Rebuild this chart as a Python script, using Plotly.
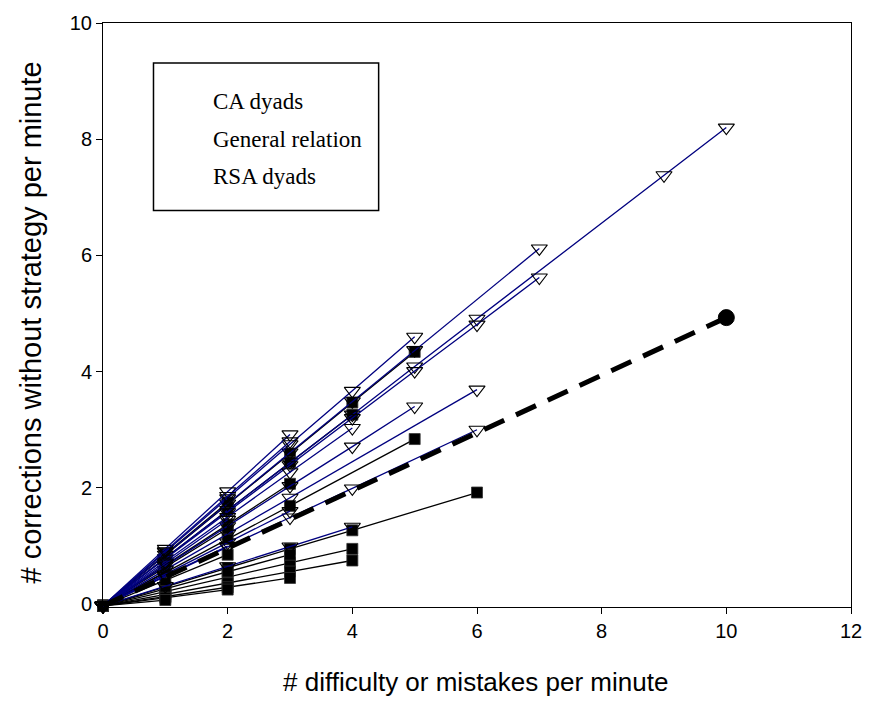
import plotly.graph_objects as go

# Per-dyad regression points: CA dyads (filled squares, black lines)
ca_x = [
    [0, 1, 2, 3, 4, 5],
    [0, 1, 2, 3, 4],
    [0, 1, 2, 3, 5],
    [0, 1, 2, 3, 4, 6],
    [0, 1, 2, 3, 4],
    [0, 1, 2, 3, 4],
    [0, 1, 2, 3],
    [0, 1, 2, 3],
    [0, 1, 2, 3],
    [0, 1, 2],
    [0, 1, 2],
    [0, 1, 2],
    [0, 1, 2],
    [0, 1],
    [0, 1],
]
ca_y = [
    [-0.03, 0.84, 1.72, 2.59, 3.47, 4.34],
    [-0.03, 0.79, 1.62, 2.44, 3.26],
    [-0.03, 0.54, 1.12, 1.69, 2.84],
    [-0.03, 0.30, 0.62, 0.95, 1.27, 1.92],
    [-0.03, 0.22, 0.46, 0.71, 0.95],
    [-0.03, 0.17, 0.36, 0.56, 0.75],
    [-0.03, 0.67, 1.37, 2.07],
    [-0.03, 0.13, 0.29, 0.45],
    [-0.03, 0.26, 0.56, 0.85],
    [-0.03, 0.86, 1.75],
    [-0.03, 0.64, 1.30],
    [-0.03, 0.41, 0.85],
    [-0.03, 0.11, 0.25],
    [-0.03, 0.55],
    [-0.03, 0.07],
]

# RSA dyads (open down-triangles, navy lines)
rsa_x = [
    [0, 1, 2, 3, 4, 5, 6, 9, 10],
    [0, 1, 2, 3, 4, 5, 7],
    [0, 1, 2, 3, 4, 5],
    [0, 1, 2, 3, 4, 5, 6, 7],
    [0, 1, 2, 3, 6],
    [0, 1, 2, 3, 4, 5],
    [0, 1, 2, 3, 4, 6],
    [0, 1, 2, 3, 4],
    [0, 1, 2, 3, 4],
    [0, 1, 2, 3],
    [0, 1, 2, 3],
    [0, 1, 2, 3],
    [0, 1, 2],
    [0, 1, 2],
]
rsa_y = [
    [-0.03, 0.79, 1.62, 2.44, 3.26, 4.09, 4.91, 7.38, 8.20],
    [-0.03, 0.85, 1.73, 2.61, 3.49, 4.37, 6.12],
    [-0.03, 0.90, 1.82, 2.75, 3.67, 4.60],
    [-0.03, 0.78, 1.58, 2.39, 3.20, 4.01, 4.81, 5.62],
    [-0.03, 0.59, 1.21, 1.83, 3.69],
    [-0.03, 0.66, 1.34, 2.03, 2.71, 3.40],
    [-0.03, 0.48, 0.98, 1.49, 1.99, 3.00],
    [-0.03, 0.73, 1.50, 2.27, 3.03],
    [-0.03, 0.31, 0.65, 0.99, 1.33],
    [-0.03, 0.95, 1.94, 2.92],
    [-0.03, 0.91, 1.86, 2.80],
    [-0.03, 0.51, 1.06, 1.60],
    [-0.03, 0.49, 1.00],
    [-0.03, 0.70, 1.45],
]

# Pooled relation across all dyads
general_x = [0, 10]
general_y = [-0.03, 4.93]

x_ticks = [0, 2, 4, 6, 8, 10, 12]
y_ticks = [0, 2, 4, 6, 8, 10]
legend_labels = ["CA dyads", "General relation", "RSA dyads"]

fig = go.Figure()

for xs, ys in zip(ca_x, ca_y):
    fig.add_trace(go.Scatter(
        x=xs, y=ys, mode="lines+markers",
        line=dict(color="black", width=1.3),
        marker=dict(symbol="square", size=11, color="black",
                    line=dict(color="#333333", width=0.8)),
        cliponaxis=False, showlegend=False, hoverinfo="skip"))

for xs, ys in zip(rsa_x, rsa_y):
    fig.add_trace(go.Scatter(
        x=xs, y=ys, mode="lines+markers",
        line=dict(color="#00007f", width=1.3),
        marker=dict(symbol="triangle-down-open", size=14,
                    color="black", line=dict(color="black", width=1.1)),
        cliponaxis=False, showlegend=False, hoverinfo="skip"))

# General relation: thick dashed line with a filled dot at its far end
fig.add_trace(go.Scatter(
    x=general_x, y=general_y, mode="lines",
    line=dict(color="black", width=5, dash="22px,13px"),
    cliponaxis=False, showlegend=False, hoverinfo="skip"))
fig.add_trace(go.Scatter(
    x=general_x[-1:], y=general_y[-1:], mode="markers",
    marker=dict(symbol="circle", size=16, color="#000000",
                line=dict(color="#000000", width=1)),
    cliponaxis=False, showlegend=False, hoverinfo="skip"))

axis_common = dict(
    showgrid=False, zeroline=False, showline=True, linecolor="black",
    linewidth=1, mirror=True, ticks="outside", ticklen=6, tickwidth=1,
    tickcolor="black",
    tickfont=dict(family="Liberation Sans, Arial", size=20, color="black"),
)

fig.update_xaxes(range=[0, 12], tickvals=x_ticks, **axis_common)
fig.update_yaxes(range=[-0.05, 10], tickvals=y_ticks, **axis_common)

# Legend box with text entries
fig.add_shape(type="rect", xref="paper", yref="paper",
              x0=0.0675, x1=0.3685, y0=0.679, y1=0.9315,
              line=dict(color="black", width=1.5), fillcolor="white",
              layer="above")
for label, ypos in zip(legend_labels, [0.865, 0.801, 0.738]):
    fig.add_annotation(x=0.1438, y=ypos, xref="paper", yref="paper",
                       text=label, showarrow=False, xanchor="left",
                       yanchor="middle",
                       font=dict(family="Liberation Serif, Times New Roman",
                                 size=23, color="black"))

fig.add_annotation(x=-0.0963, y=0.487, xref="paper", yref="paper",
                   text="# corrections without strategy per minute",
                   textangle=-90, showarrow=False,
                   xanchor="center", yanchor="middle",
                   font=dict(family="Liberation Sans, Arial", size=29,
                             color="black"))
fig.add_annotation(x=0.4985, y=-0.129, xref="paper", yref="paper",
                   text="# difficulty or mistakes per minute",
                   showarrow=False, xanchor="center", yanchor="middle",
                   font=dict(family="Liberation Sans, Arial", size=26,
                             color="black"))

fig.update_layout(
    width=874, height=711,
    margin=dict(l=103, r=13, t=19, b=104),
    paper_bgcolor="white", plot_bgcolor="white",
)

fig.write_html("out.html")
